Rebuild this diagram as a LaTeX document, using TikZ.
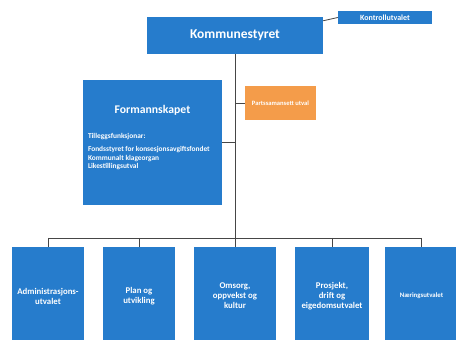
\documentclass[tikz,border=0pt]{standalone}
\usepackage{fontspec}
\setmainfont{Carlito}
\usetikzlibrary{positioning}
\definecolor{orgblue}{RGB}{38,124,204}
\definecolor{orgorange}{RGB}{244,156,74}
\definecolor{orgline}{RGB}{70,70,70}
\tikzset{
	unit/.style={fill=orgblue, text=white, inner sep=1pt, align=center, font=\bfseries},
	subunit/.style={unit, minimum height=29.4mm, font=\fontsize{7.5}{8.6}\selectfont\bfseries},
	sideunit/.style={fill=orgorange, text=white, inner sep=1pt, align=center},
	link/.style={draw=orgline, line width=0.7pt}
}
\begin{document}
\begin{tikzpicture}[x=0.3mm, y=-0.3mm]
			\useasboundingbox (0,0) rectangle (456,340);
			\clip (0,0) rectangle (456,340);
			\node (kst) [unit, minimum width=52.8mm, minimum height=11.1mm, font=\fontsize{11.5}{13}\selectfont\bfseries] at (235,35.5) {Kommunestyret};
			\node (kontroll) [unit, minimum width=28.2mm, minimum height=3.9mm, font=\fontsize{6.8}{8}\selectfont\bfseries] at (385,17.5) {Kontrollutvalet};
			\node (form) [unit, minimum width=41.7mm, minimum height=37.5mm] at (152.5,142.5) {};
			\node (formtitle) [below=7.5mm of form.north, text=white, font=\fontsize{10}{12}\selectfont\bfseries, inner sep=0pt] {Formannskapet};
			\node (formtext) [below right=16mm and 1.5mm of form.north west, anchor=north west, text=white, align=left, inner sep=0pt, font=\fontsize{6.3}{7.2}\selectfont\bfseries] {Tilleggsfunksjonar:\\[4pt] Fondsstyret for konsesjonsavgiftsfondet\\ Kommunalt klageorgan\\ Likestillingsutval};
			\node (orange) [sideunit, minimum width=21.3mm, minimum height=10.2mm, font=\fontsize{5.6}{7}\selectfont\bfseries] at (280.5,103) {Partssamansett utval};
			\node (adm) [subunit, minimum width=21.6mm] at (48,296) {Administrasjons-\\utvalet};
			\node (plan) [subunit, minimum width=21.6mm] at (139,296) {Plan og\\utvikling};
			\node (omsorg) [subunit, minimum width=24.6mm] at (235,296) {Omsorg,\\oppvekst og\\kultur};
			\node (prosjekt) [subunit, minimum width=22.2mm] at (332,296) {Prosjekt,\\drift og\\eigedomsutvalet};
			\node (naering) [subunit, minimum width=21.9mm, font=\fontsize{5.8}{7}\selectfont\bfseries] at (421.5,296) {Næringsutvalet};
			\coordinate (bus) at (235,238);
			\draw [link] ([yshift=-1.2mm]kst.north east) -- (kontroll.west);
			\draw [link] (kst.south) -- (bus);
			\draw [link] (kst.south |- orange.west) -- (orange.west);
			\draw [link] (kst.south |- form.east) -- (form.east);
			\draw [link] (adm.north |- bus) -- (naering.north |- bus);
			\foreach \unitname in {adm,plan,omsorg,prosjekt,naering}
				\draw [link] (\unitname.north |- bus) -- (\unitname.north);
		\end{tikzpicture}
\end{document}
